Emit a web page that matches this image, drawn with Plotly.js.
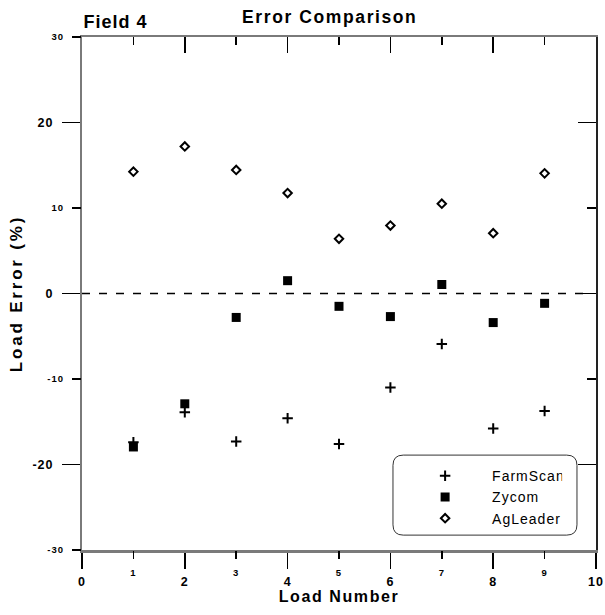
<!DOCTYPE html>
<html>
<head>
<meta charset="utf-8">
<script src="https://cdn.plot.ly/plotly-3.0.1.min.js"></script>
<style>
html, body { margin: 0; padding: 0; background: #fff; }
#chart { width: 605px; height: 615px; }
#chart text { letter-spacing: 1px; }
#chart text.gtitle, #chart text.xtitle { letter-spacing: 1.6px; }
#chart text.ytitle { letter-spacing: 2.8px; }
</style>
</head>
<body>
<div id="chart"></div>
<script>
// Data
const loads = [1, 2, 3, 4, 5, 6, 7, 8, 9];
const farmScan = [-17.4, -13.9, -17.3, -14.6, -17.6, -11.0, -5.9, -15.8, -13.75];
const zycom = [-17.95, -12.9, -2.8, 1.5, -1.5, -2.7, 1.05, -3.4, -1.15];
const agLeader = [14.25, 17.2, 14.45, 11.75, 6.4, 7.95, 10.5, 7.05, 14.05];

const xEvenTicks = [0, 2, 4, 6, 8, 10];
const xOddTicks = [1, 3, 5, 7, 9];
const yMajorTicks = [-20, 0, 20];
const yMinorTicks = [-30, -10, 10, 30];

const FONT = 'Liberation Sans, Arial, sans-serif';
const GREY = '#7a7a7a';

const traces = [
  { x: loads, y: farmScan, name: 'FarmScan', type: 'scatter', mode: 'markers',
    marker: { symbol: 'cross-thin', size: 7.5, color: '#000', line: { color: '#000', width: 2 } } },
  { x: loads, y: zycom, name: 'Zycom', type: 'scatter', mode: 'markers',
    marker: { symbol: 'square', size: 9, color: '#000' } },
  { x: loads, y: agLeader, name: 'AgLeader', type: 'scatter', mode: 'markers',
    marker: { symbol: 'diamond-open', size: 6.5, color: '#000', line: { color: '#000', width: 2 } } },
  // invisible helpers so the overlay axes are drawn
  { x: [null], y: [null], xaxis: 'x2', yaxis: 'y2', showlegend: false, hoverinfo: 'skip', mode: 'markers' },
  { x: [null], y: [null], xaxis: 'x3', yaxis: 'y3', showlegend: false, hoverinfo: 'skip', mode: 'markers' }
];

const tickFontBig = { family: FONT, size: 12.5, color: '#000', weight: 'bold' };
const tickFontSmall = { family: FONT, size: 9.5, color: '#000', weight: 'bold' };

// rounded legend box (paper coords)
const bx0 = 0.605, bx1 = 0.963, by0 = 0.029, by1 = 0.185, rx = 0.02, ry = 0.02;
const boxPath = `M ${bx0+rx},${by0} L ${bx1-rx},${by0} Q ${bx1},${by0} ${bx1},${by0+ry} L ${bx1},${by1-ry} Q ${bx1},${by1} ${bx1-rx},${by1} L ${bx0+rx},${by1} Q ${bx0},${by1} ${bx0},${by1-ry} L ${bx0},${by0+ry} Q ${bx0},${by0} ${bx0+rx},${by0} Z`;

const layout = {
  width: 605, height: 615,
  margin: { l: 82, r: 9, t: 37, b: 65 },
  paper_bgcolor: '#fff', plot_bgcolor: '#fff',
  font: { family: FONT, color: '#000' },
  title: { text: 'Error Comparison', font: { family: FONT, size: 17.5, weight: 'bold', color: '#000' },
           xref: 'paper', x: 0.482, xanchor: 'center', yref: 'container', y: 0.972, yanchor: 'middle' },
  showlegend: true,
  legend: { x: 0.615, xanchor: 'left', y: 0.175, yanchor: 'top', bgcolor: 'rgba(0,0,0,0)',
            borderwidth: 0, itemwidth: 84, font: { family: FONT, size: 14, color: '#000' } },
  xaxis: { range: [0, 10], tickmode: 'array', tickvals: xEvenTicks, ticktext: xEvenTicks.map(String),
           ticks: 'outside', ticklen: 16, tickwidth: 1.5, tickcolor: '#000',
           showline: true, linecolor: GREY, linewidth: 2.5, showgrid: false, zeroline: false,
           tickfont: tickFontBig, ticklabelstandoff: 2,
           title: { text: 'Load Number', font: { family: FONT, size: 16, weight: 'bold', color: '#000' }, standoff: 2 } },
  xaxis2: { range: [0, 10], overlaying: 'x', anchor: 'y', side: 'bottom',
            tickmode: 'array', tickvals: xOddTicks, ticktext: xOddTicks.map(String),
            ticks: 'outside', ticklen: 8, tickwidth: 1.5, tickcolor: '#000',
            showline: false, showgrid: false, zeroline: false, tickfont: tickFontSmall, ticklabelstandoff: 6 },
  xaxis3: { range: [0, 10], overlaying: 'x', anchor: 'y', side: 'top',
            tickmode: 'array', tickvals: xEvenTicks, ticks: 'inside', ticklen: 16, tickwidth: 1.5, tickcolor: '#000',
            minor: { tickmode: 'array', tickvals: xOddTicks, ticks: 'inside', ticklen: 8, tickwidth: 1.5, tickcolor: '#000' },
            showticklabels: false, showline: true, linecolor: GREY, linewidth: 2.5, showgrid: false, zeroline: false },
  yaxis: { range: [-30, 30], tickmode: 'array', tickvals: yMajorTicks, ticktext: yMajorTicks.map(String),
           ticks: 'outside', ticklen: 18, tickwidth: 1.5, tickcolor: '#000',
           showline: true, linecolor: GREY, linewidth: 2, showgrid: false, zeroline: false,
           tickfont: tickFontBig, ticklabelstandoff: 6,
           title: { text: 'Load Error (%)', font: { family: FONT, size: 17, weight: 'bold', color: '#000' }, standoff: 8 } },
  yaxis2: { range: [-30, 30], overlaying: 'y', anchor: 'x', side: 'left',
            tickmode: 'array', tickvals: yMinorTicks, ticktext: yMinorTicks.map(String),
            ticks: 'outside', ticklen: 9, tickwidth: 1.5, tickcolor: '#000',
            showline: false, showgrid: false, zeroline: false, tickfont: tickFontSmall, ticklabelstandoff: 6 },
  yaxis3: { range: [-30, 30], overlaying: 'y', anchor: 'x', side: 'right',
            tickmode: 'array', tickvals: yMajorTicks, ticks: 'inside', ticklen: 18, tickwidth: 1.5, tickcolor: '#000',
            minor: { tickmode: 'array', tickvals: yMinorTicks, ticks: 'inside', ticklen: 9, tickwidth: 1.5, tickcolor: '#000' },
            showticklabels: false, showline: true, linecolor: '#222', linewidth: 2, showgrid: false, zeroline: false },
  shapes: [
    { type: 'line', xref: 'paper', yref: 'y', x0: 0, x1: 0.982, y0: 0, y1: 0,
      line: { color: '#000', width: 1.5, dash: '8px,9px' } },
    { type: 'path', xref: 'paper', yref: 'paper', path: boxPath,
      line: { color: '#333', width: 1 }, fillcolor: 'rgba(0,0,0,0)' }
  ],
  annotations: [
    { text: 'Field 4', xref: 'paper', yref: 'paper', x: 0.006, xanchor: 'left', y: 1.0286, yanchor: 'middle',
      showarrow: false, font: { family: FONT, size: 18, weight: 'bold', color: '#000' } }
  ]
};

Plotly.newPlot('chart', traces, layout, { staticPlot: true, displayModeBar: false });
</script>
</body>
</html>
